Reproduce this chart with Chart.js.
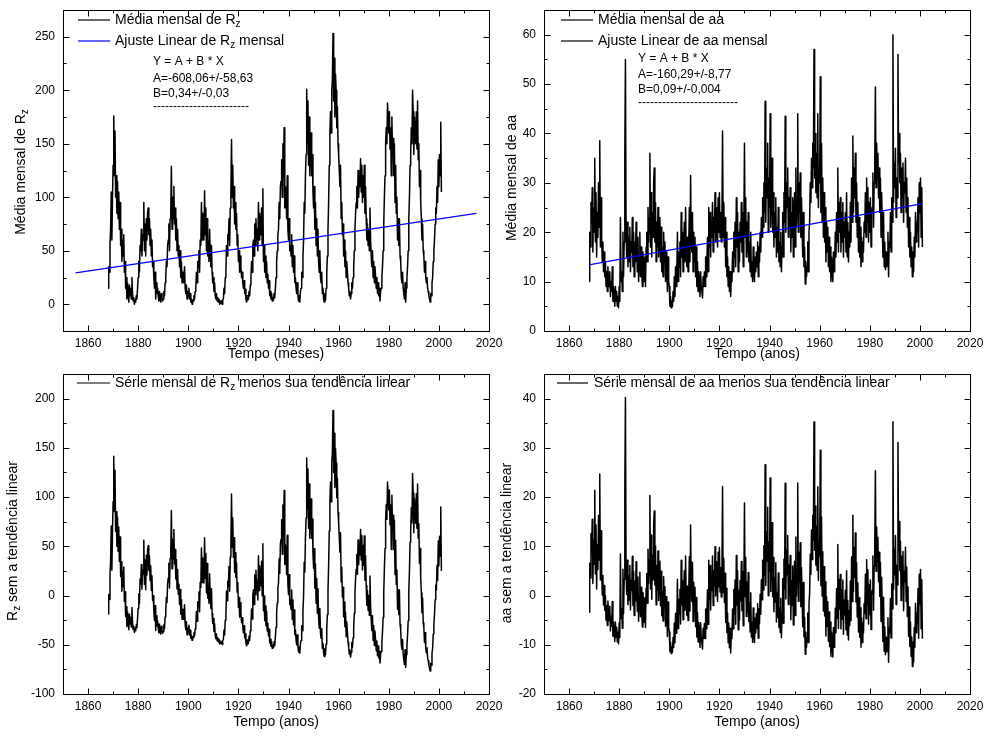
<!DOCTYPE html>
<html>
<head>
<meta charset="utf-8">
<script src="https://cdn.jsdelivr.net/npm/chart.js@4.4.0/dist/chart.umd.min.js"></script>
<style>
  body { margin: 0; background: #fff; }
  #wrap { position: relative; width: 986px; height: 740px; overflow: hidden; }
  canvas { position: absolute; }
</style>
</head>
<body>
<div id="wrap">
  <canvas id="tl" width="515" height="370" style="left:0;top:0"></canvas>
  <canvas id="bl" width="515" height="370" style="left:0;top:370px"></canvas>
  <canvas id="tr" width="493" height="370" style="left:493px;top:0"></canvas>
  <canvas id="br" width="493" height="370" style="left:493px;top:370px"></canvas>
</div>
<script>
// quarterly samples, starting 1868.0
const startYear = 1868;
const stepYears = 0.25;

// media mensal de Rz (sunspot number), 4 values per year
const rzMonthly = [
  15, 35, 30, 55,     70, 105, 60, 100,   130, 176, 120, 162, 100, 120, 85, 115,  // 1868-71
  80, 105, 70, 95,    55, 70, 40, 60,     45, 65, 30, 40,     15, 25, 5, 20,      // 1872-75
  12, 2, 18, 8,       15, 5, 25, 10,      3, 6, 0, 4,         2, 8, 5, 15,        // 1876-79
  25, 40, 30, 55,     50, 70, 45, 65,     60, 95, 50, 75,     45, 80, 60, 85,     // 1880-83
  90, 65, 80, 55,     70, 45, 60, 35,     40, 25, 15, 30,     5, 20, 10, 15,      // 1884-87
  8, 3, 12, 5,        2, 10, 6, 3,        5, 12, 8, 20,       25, 40, 35, 55,     // 1888-91
  60, 75, 50, 80,     85, 129, 70, 100,   80, 110, 75, 90,    60, 80, 50, 70,     // 1892-95
  45, 55, 35, 50,     25, 40, 20, 30,     30, 20, 35, 15,     10, 18, 5, 12,      // 1896-99
  8, 15, 5, 10,       2, 5, 0, 4,         3, 8, 5, 12,        15, 30, 20, 40,     // 1900-03
  35, 50, 30, 60,     55, 95, 60, 85,     70, 60, 106, 65,    90, 50, 80, 45,     // 1904-07
  60, 40, 70, 50,     35, 55, 30, 20,     25, 12, 20, 8,      5, 10, 3, 6,        // 1908-11
  2, 5, 0, 3,         1, 3, 0, 4,         5, 15, 10, 25,      30, 55, 45, 65,     // 1912-15
  60, 80, 55, 90,     105, 154, 100, 130, 90, 110, 75, 95,    70, 85, 55, 65,     // 1916-19
  40, 50, 30, 45,     35, 25, 30, 20,     15, 22, 10, 14,     5, 2, 8, 4,         // 1920-23
  5, 12, 8, 18,       25, 40, 30, 55,     60, 45, 75, 55,     80, 60, 70, 50,     // 1924-27
  95, 60, 85, 75,     65, 90, 55, 108,    40, 55, 30, 45,     25, 40, 20, 28,     // 1928-31
  15, 22, 8, 12,      5, 10, 3, 6,        4, 10, 6, 15,       25, 40, 50, 65,     // 1932-35
  70, 95, 80, 110,    115, 135, 100, 150, 120, 165, 90, 110,  100, 80, 120, 70,   // 1936-39
  60, 80, 50, 55,     45, 65, 35, 55,     30, 45, 20, 25,     15, 10, 20, 8,      // 1940-43
  3, 8, 2, 12,        15, 30, 25, 45,     60, 95, 85, 120,    140, 201, 150, 190, // 1944-47
  130, 175, 120, 150, 160, 120, 140, 105, 90, 110, 70, 95,    55, 80, 45, 70,     // 1948-51
  40, 30, 50, 25,     20, 30, 10, 15,     5, 2, 10, 4,        15, 30, 45, 70,     // 1952-55
  95, 130, 160, 180,  160, 200, 210, 253, 190, 230, 175, 215, 200, 165, 185, 150, // 1956-59
  140, 125, 110, 130, 80, 95, 65, 75,     45, 60, 35, 50,     25, 40, 30, 20,     // 1960-63
  15, 8, 12, 5,       10, 20, 15, 25,     35, 50, 70, 85,     95, 110, 90, 125,   // 1964-67
  100, 120, 110, 136, 105, 130, 95, 120,  100, 130, 85, 110,  80, 60, 75, 55,     // 1968-71
  70, 50, 90, 60,     45, 35, 50, 25,     40, 20, 35, 25,     15, 25, 10, 20,     // 1972-75
  8, 15, 3, 12,       15, 25, 35, 50,     75, 100, 120, 150,  165, 150, 188, 175, // 1976-79
  160, 180, 145, 165, 120, 175, 140, 155, 120, 150, 95, 130,  85, 100, 60, 80,    // 1980-83
  55, 80, 45, 40,     25, 20, 30, 15,     10, 5, 20, 2,       15, 25, 35, 50,     // 1984-87
  80, 100, 130, 140,  165, 150, 200, 180, 140, 175, 160, 150, 180, 145, 190, 135, // 1988-91
  150, 110, 125, 95,  80, 60, 75, 50,     45, 30, 40, 25,     20, 25, 15, 12,     // 1992-95
  8, 5, 2, 10,        8, 20, 25, 40,      50, 60, 75, 90,     85, 110, 95, 135,   // 1996-99
  110, 140, 120, 170, 105                                                          // 2000-01
];

// media mensal do indice aa, 4 values per year
const aaMonthly = [
  10, 20, 17, 26,     22, 29, 16, 25,     20, 35, 18, 28,     15, 24, 19, 30,     // 1868-71
  21, 38.5, 17, 27,   19, 14, 18, 12,     16, 11, 14, 9,      12, 8, 13, 10,      // 1872-75
  9, 12, 7, 10,       8, 13, 6, 9,        7, 5, 9, 6,         8, 5, 7, 4.7,       // 1876-79
  9, 6, 23, 10,       12, 8, 20, 11,      18, 36, 55, 20,     15, 22, 13, 19,     // 1880-83
  14, 21, 12, 18,     16, 23, 13, 20,     11, 18, 14, 22,     16, 12, 19, 10,     // 1884-87
  15, 20, 11, 17,     12, 9, 16, 13,      10, 15, 9, 17,      20, 14, 25, 18,     // 1888-91
  23, 36, 17, 28,     15, 24, 19, 30,     33, 18, 26, 14,     22, 17, 25, 15,     // 1892-95
  19, 23, 14, 21,     12, 17, 11, 20,     14, 18, 10, 16,     13, 8, 15, 10,      // 1896-99
  9, 5, 7, 4.7,       6, 5, 8, 6,         11, 7, 13, 9,       12, 20, 10, 16,     // 1900-03
  13, 18, 11, 24,     15, 20, 12, 18,     22, 14, 25, 16,     13, 19, 12, 17,     // 1904-07
  25, 14, 31.5, 18,   16, 24, 12, 20,     14, 19, 11, 17,     9, 14, 8, 12,       // 1908-11
  10, 7, 12, 9,       8, 6.7, 11, 9,      12, 9, 15, 11,      14, 19, 12, 25,     // 1912-15
  17, 24, 15, 22,     19, 26, 16, 23,     20, 28, 18, 25,     22, 17, 27, 20,     // 1916-19
  28, 19, 24, 18,     22, 40.5, 19, 26,   17, 23, 13, 20,     11, 15, 9, 13,      // 1920-23
  8, 12, 7, 11,       10, 16, 12, 20,     15, 22, 13, 27,     17, 24, 12, 20,     // 1924-27
  14, 22, 18, 26,     16, 24, 13, 21,     38, 19, 27, 15,     22, 16, 24, 14,     // 1928-31
  18, 12, 20, 11,     14, 10, 17, 12,     10, 15, 12, 16,     13, 18, 11, 17,     // 1932-35
  14, 20, 16, 23,     19, 27, 21, 30,     24, 46.5, 22, 33,   27, 38, 20, 31,     // 1936-39
  25, 44, 21, 30,     35, 20, 28, 17,     24, 19, 27, 15,     21, 16, 25, 14,     // 1940-43
  18, 13, 20, 12,     17, 24, 15, 28,     22, 43.5, 20, 30,   25, 33, 19, 27,     // 1944-47
  21, 29, 16, 24,     19, 27, 15, 23,     28, 17, 33, 21,     26, 44, 20, 30,     // 1948-51
  24, 32, 19, 27,     21, 15, 24, 13,     17, 9.5, 14, 11,    13, 18, 12, 20,     // 1952-55
  22, 30, 26, 35,     29, 38, 33, 57,     31, 40, 28, 36,     27, 44, 25, 33,     // 1956-59
  30, 51.5, 24, 38,   22, 31, 19, 28,     18, 25, 14, 22,     16, 21, 13, 19,     // 1960-63
  12, 17, 10, 15,     13, 10, 16, 12,     14, 20, 15, 24,     18, 33, 16, 26,     // 1964-67
  20, 27, 16, 24,     18, 26, 15, 22,     19, 24, 16, 28,     15, 22, 14, 20,     // 1968-71
  17, 26, 18, 31,     22, 39.5, 24, 33,   27, 36, 22, 30,     19, 26, 16, 23,     // 1972-75
  15, 21, 13, 19,     14, 18, 16, 22,     20, 28, 19, 31,     22, 29, 18, 26,     // 1976-79
  20, 27, 17, 24,     25, 32, 21, 30,     34, 49.4, 29, 38,   31, 36, 27, 33,     // 1980-83
  24, 31, 19, 28,     21, 15, 24, 13,     18, 12.4, 16, 13,   14, 20, 11, 18,     // 1984-87
  17, 24, 16, 27,     22, 60, 26, 34,     29, 37, 23, 31,     27, 56, 34, 40,     // 1988-91
  30, 36, 24, 33,     27, 34, 22, 30,     28, 35, 24, 31,     21, 27, 17, 23,     // 1992-95
  15, 20, 13, 17,     11, 16, 12, 19,     15, 24, 18, 22,     20, 27, 17, 30,     // 1996-99
  24, 31, 19, 29,     17                                                           // 2000-01
];

// linear fits as drawn (end points of the blue lines)
const rzTrendYears = [1855, 2015];
const rzTrendValues = [29.3, 85.0];
const aaTrendYears = [1868, 2001];
const aaTrendValues = [13.4, 25.8];

// tick labels
const xTickYears = [1860, 1880, 1900, 1920, 1940, 1960, 1980, 2000, 2020];
const rzTicks = [0, 50, 100, 150, 200, 250];
const aaTicks = [0, 10, 20, 30, 40, 50, 60];
const rzResTicks = [-100, -50, 0, 50, 100, 150, 200];
const aaResTicks = [-20, -10, 0, 10, 20, 30, 40];

const FONT = '"Liberation Sans", Arial, Helvetica, sans-serif';
const years = rzMonthly.map((_, i) => startYear + i * stepYears);

function lineAt(xs, ys, x) {
  return ys[0] + (ys[1] - ys[0]) * (x - xs[0]) / (xs[1] - xs[0]);
}
// series minus its linear trend
const rzResidual = rzMonthly.map((v, i) => v - lineAt(rzTrendYears, rzTrendValues, years[i]));
const aaResidual = aaMonthly.map((v, i) => v - lineAt(aaTrendYears, aaTrendValues, years[i]));

function rich(ctx, parts, x, y, size, measureOnly) {
  let cx = x;
  parts.forEach(p => {
    const sub = p[1] === 'sub';
    ctx.font = (sub ? Math.round(size * 0.68) : size) + 'px ' + FONT;
    if (!measureOnly) ctx.fillText(p[0], cx, y + (sub ? size * 0.32 : 0));
    cx += ctx.measureText(p[0]).width;
  });
  return cx - x;
}

function drawDeco(chart, spec) {
  const { ctx, chartArea: a, scales: { x, y } } = chart;
  ctx.save();
  ctx.strokeStyle = '#000';
  ctx.lineWidth = 1;
  const L = Math.round(a.left) + 0.5, R = Math.round(a.right) + 0.5;
  const T = Math.round(a.top) + 0.5, B = Math.round(a.bottom) + 0.5;
  ctx.strokeRect(L, T, R - L, B - T);
  ctx.beginPath();
  for (let v = 1850; v <= 2020; v += 10) {
    const p = Math.round(x.getPixelForValue(v)) + 0.5;
    const len = v % 20 === 0 ? 6 : 3;
    ctx.moveTo(p, B); ctx.lineTo(p, B - len);
    ctx.moveTo(p, T); ctx.lineTo(p, T + len);
  }
  for (let v = spec.yMin; v <= spec.yMax; v += spec.yMinor) {
    const p = Math.round(y.getPixelForValue(v)) + 0.5;
    const len = v % spec.yMajor === 0 ? 6 : 3;
    ctx.moveTo(L, p); ctx.lineTo(L + len, p);
    ctx.moveTo(R, p); ctx.lineTo(R - len, p);
  }
  ctx.stroke();

  ctx.fillStyle = '#000';
  ctx.textBaseline = 'middle';
  ctx.textAlign = 'left';
  spec.legend.forEach(row => {
    ctx.strokeStyle = row.color;
    ctx.lineWidth = 1.2;
    ctx.beginPath();
    ctx.moveTo(row.x0, row.y); ctx.lineTo(row.x1, row.y);
    ctx.stroke();
    rich(ctx, row.text, row.tx, row.y, 14);
  });
  ctx.font = '12px ' + FONT;
  (spec.notes || []).forEach(n => ctx.fillText(n.t, n.x, n.y));

  const cx = (a.left + a.right) / 2;
  const wx = rich(ctx, spec.xTitle, 0, 0, 14, true);
  rich(ctx, spec.xTitle, cx - wx / 2, spec.xTitleY, 14);

  const wy = rich(ctx, spec.yTitle, 0, 0, 14, true);
  ctx.translate(spec.yTitleX, spec.yTitleY);
  ctx.rotate(-Math.PI / 2);
  rich(ctx, spec.yTitle, -wy / 2, 0, 14);
  ctx.restore();
}

function makePanel(id, spec) {
  const canvas = document.getElementById(id);
  const datasets = spec.series.map((s, i) => ({
    data: s.xs.map((xv, k) => ({ x: xv, y: s.ys[k] })),
    borderColor: s.color,
    borderWidth: i === 0 ? 1.5 : 1.2,
    order: i === 0 ? 1 : 0,
    pointRadius: 0,
    tension: 0,
    fill: false,
    borderJoinStyle: 'round'
  }));
  const tickFont = { family: FONT, size: 12 };
  new Chart(canvas, {
    type: 'line',
    data: { datasets },
    options: {
      responsive: false,
      animation: false,
      events: [],
      layout: { padding: { left: 0, top: spec.area.top, right: canvas.width - spec.area.right, bottom: 0 } },
      plugins: { legend: { display: false }, tooltip: { enabled: false } },
      scales: {
        x: {
          type: 'linear', min: 1850, max: 2020,
          grid: { display: false, drawTicks: false }, border: { display: false },
          ticks: { font: tickFont, color: '#000', padding: 5, maxRotation: 0, autoSkip: false, callback: v => String(v) },
          afterBuildTicks: ax => { ax.ticks = xTickYears.map(v => ({ value: v })); },
          afterFit: ax => {
            ax.height = canvas.height - spec.area.bottom;
            ax.paddingLeft = 0; ax.paddingRight = 0;
          }
        },
        y: {
          type: 'linear', min: spec.yMin, max: spec.yMax,
          grid: { display: false, drawTicks: false }, border: { display: false },
          ticks: { font: tickFont, color: '#000', padding: 8, autoSkip: false, callback: v => String(v) },
          afterBuildTicks: ax => { ax.ticks = spec.yTicks.map(v => ({ value: v })); },
          afterFit: ax => {
            ax.width = spec.area.left;
            ax.paddingTop = 0; ax.paddingBottom = 0;
          }
        }
      }
    },
    plugins: [{ id: 'deco', afterDraw: c => drawDeco(c, spec) }]
  });
}

makePanel('tl', {
  area: { left: 63, top: 10, right: 489, bottom: 331 },
  yMin: -25, yMax: 275, yMajor: 50, yMinor: 25, yTicks: rzTicks,
  series: [
    { xs: years, ys: rzMonthly, color: '#000000' },
    { xs: rzTrendYears, ys: rzTrendValues, color: '#0000ff' }
  ],
  legend: [
    { x0: 78, x1: 110, tx: 115, y: 20, color: '#000000', text: [['Média mensal de R'], ['z', 'sub']] },
    { x0: 78, x1: 110, tx: 115, y: 41, color: '#0000ff', text: [['Ajuste Linear de R'], ['z', 'sub'], [' mensal']] }
  ],
  notes: [
    { t: 'Y = A + B * X', x: 153, y: 62 },
    { t: 'A=-608,06+/-58,63', x: 153, y: 79 },
    { t: 'B=0,34+/-0,03', x: 153, y: 94 },
    { t: '------------------------', x: 153, y: 107 }
  ],
  xTitle: [['Tempo (meses)']], xTitleY: 354,
  yTitle: [['Média mensal de R'], ['z', 'sub']], yTitleX: 21, yTitleY: 172
});

makePanel('tr', {
  area: { left: 51, top: 10, right: 477, bottom: 331 },
  yMin: 0, yMax: 65, yMajor: 10, yMinor: 5, yTicks: aaTicks,
  series: [
    { xs: years, ys: aaMonthly, color: '#000000' },
    { xs: aaTrendYears, ys: aaTrendValues, color: '#0000ff' }
  ],
  legend: [
    { x0: 68, x1: 100, tx: 105, y: 20, color: '#000000', text: [['Média mensal de aa']] },
    { x0: 68, x1: 100, tx: 105, y: 41, color: '#000000', text: [['Ajuste Linear de aa mensal']] }
  ],
  notes: [
    { t: 'Y = A + B * X', x: 145, y: 59 },
    { t: 'A=-160,29+/-8,77', x: 145, y: 75 },
    { t: 'B=0,09+/-0,004', x: 145, y: 90 },
    { t: '-------------------------', x: 145, y: 103 }
  ],
  xTitle: [['Tempo (anos)']], xTitleY: 354,
  yTitle: [['Média mensal de aa']], yTitleX: 19, yTitleY: 178
});

makePanel('bl', {
  area: { left: 63, top: 4, right: 489, bottom: 324 },
  yMin: -100, yMax: 225, yMajor: 50, yMinor: 25, yTicks: rzResTicks,
  series: [{ xs: years, ys: rzResidual, color: '#000000' }],
  legend: [
    { x0: 77, x1: 110, tx: 115, y: 13, color: '#000000', text: [['Série mensal de R'], ['z', 'sub'], [' menos sua tendência linear']] }
  ],
  xTitle: [['Tempo (anos)']], xTitleY: 352,
  yTitle: [['R'], ['z', 'sub'], [' sem a tendência linear']], yTitleX: 13, yTitleY: 171
});

makePanel('br', {
  area: { left: 51, top: 4, right: 477, bottom: 324 },
  yMin: -20, yMax: 45, yMajor: 10, yMinor: 5, yTicks: aaResTicks,
  series: [{ xs: years, ys: aaResidual, color: '#000000' }],
  legend: [
    { x0: 64, x1: 95, tx: 101, y: 13, color: '#000000', text: [['Série mensal de aa menos sua tendência linear']] }
  ],
  xTitle: [['Tempo (anos)']], xTitleY: 352,
  yTitle: [['aa sem a tendência linear']], yTitleX: 14, yTitleY: 173
});
</script>
</body>
</html>
